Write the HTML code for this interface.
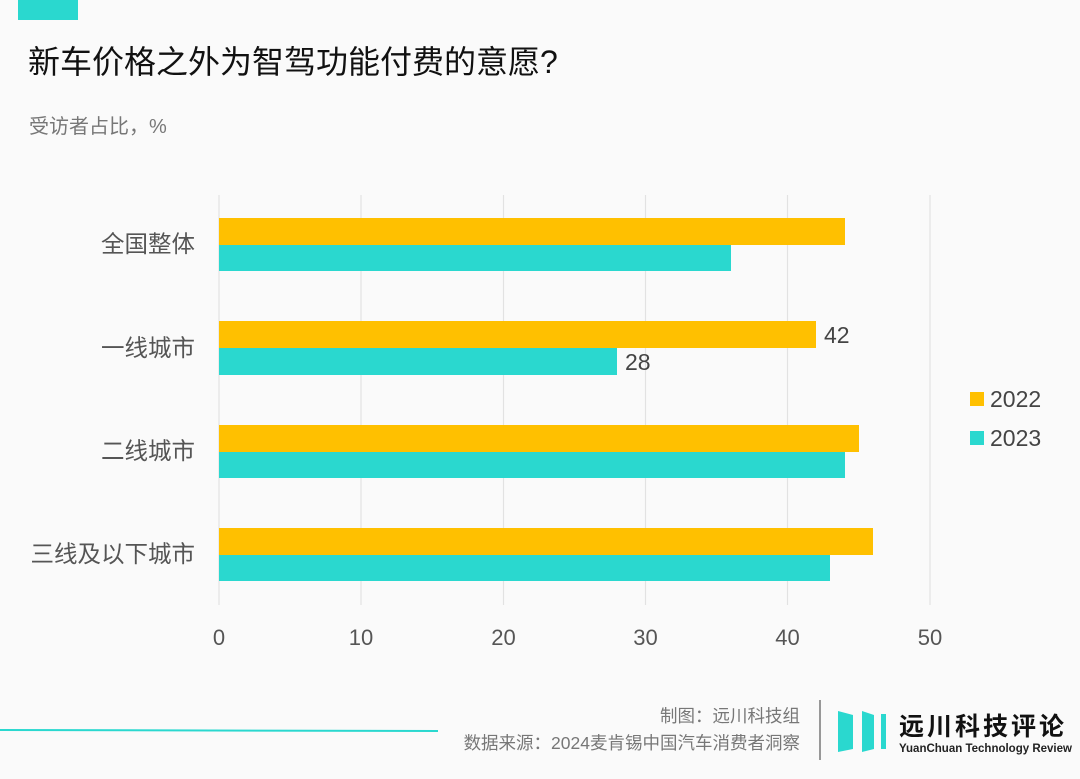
<!DOCTYPE html>
<html><head><meta charset="utf-8"><style>
body{margin:0;width:1080px;height:779px;background:#fafafa;position:relative;overflow:hidden;font-family:"Liberation Sans","Noto Sans CJK SC",sans-serif}
.a{position:absolute;white-space:nowrap}
</style></head><body>
<div class="a" style="left:18px;top:0;width:60px;height:20px;background:#2ad8cf"></div>
<div class="a" style="left:28px;top:40px;font-size:32px;color:#111;line-height:44px">新车价格之外为智驾功能付费的意愿?</div>
<div class="a" style="left:29px;top:114px;font-size:20px;color:#777;line-height:26px">受访者占比，%</div>
<svg class="a" style="left:0;top:0" width="1080" height="779">
<g stroke="#e2e2e2" stroke-width="1.2">
<line x1="219" y1="195" x2="219" y2="605"/><line x1="361" y1="195" x2="361" y2="605"/><line x1="503.5" y1="195" x2="503.5" y2="605"/><line x1="645.5" y1="195" x2="645.5" y2="605"/><line x1="787.5" y1="195" x2="787.5" y2="605"/><line x1="930" y1="195" x2="930" y2="605"/>
</g>
<g fill="#ffc000">
<rect x="219" y="218" width="626" height="27"/><rect x="219" y="321" width="597" height="27"/><rect x="219" y="425" width="640" height="27"/><rect x="219" y="528" width="654" height="27"/>
</g>
<g fill="#2ad8cf">
<rect x="219" y="245" width="512" height="26"/><rect x="219" y="348" width="398" height="27"/><rect x="219" y="452" width="626" height="26"/><rect x="219" y="555" width="611" height="26"/>
</g>
<g font-size="23.5" fill="#555" text-anchor="end" font-family="Liberation Sans,Noto Sans CJK SC,sans-serif">
<text x="195" y="252">全国整体</text><text x="195" y="356">一线城市</text><text x="195" y="459">二线城市</text><text x="195" y="562">三线及以下城市</text>
</g>
<g font-size="22" fill="#555" text-anchor="middle" font-family="Liberation Sans,sans-serif">
<text x="219" y="645">0</text><text x="361" y="645">10</text><text x="503.5" y="645">20</text><text x="645.5" y="645">30</text><text x="787.5" y="645">40</text><text x="930" y="645">50</text>
</g>
<g font-size="23" fill="#444" font-family="Liberation Sans,sans-serif">
<text x="824" y="343">42</text><text x="625" y="370">28</text>
<text x="990" y="407">2022</text><text x="990" y="446">2023</text>
</g>
<rect x="970" y="392" width="14" height="14" fill="#ffc000"/>
<rect x="970" y="431" width="14" height="14" fill="#2ad8cf"/>
<line x1="0" y1="730" x2="438" y2="731" stroke="#2ad8cf" stroke-width="2"/>
<line x1="820" y1="700" x2="820" y2="760" stroke="#777" stroke-width="1.5"/>
<g fill="#2ad8cf">
<polygon points="838,711 853,715 853,749 838,752"/><polygon points="862,711 874,715 874,749 862,752"/><polygon points="881,714 886,714 886,749 881,749"/>
</g>
<g font-family="Liberation Sans,Noto Sans CJK SC,sans-serif">
<text x="800" y="722" font-size="17.5" fill="#777" text-anchor="end">制图：远川科技组</text>
<text x="800" y="749" font-size="17.5" fill="#777" text-anchor="end">数据来源：2024麦肯锡中国汽车消费者洞察</text>
<text x="899" y="735" font-size="25" font-weight="bold" fill="#111" letter-spacing="3">远川科技评论</text>
<text x="899" y="752" font-size="11.5" font-weight="bold" fill="#222">YuanChuan Technology Review</text>
</g>
</svg>
</body></html>
